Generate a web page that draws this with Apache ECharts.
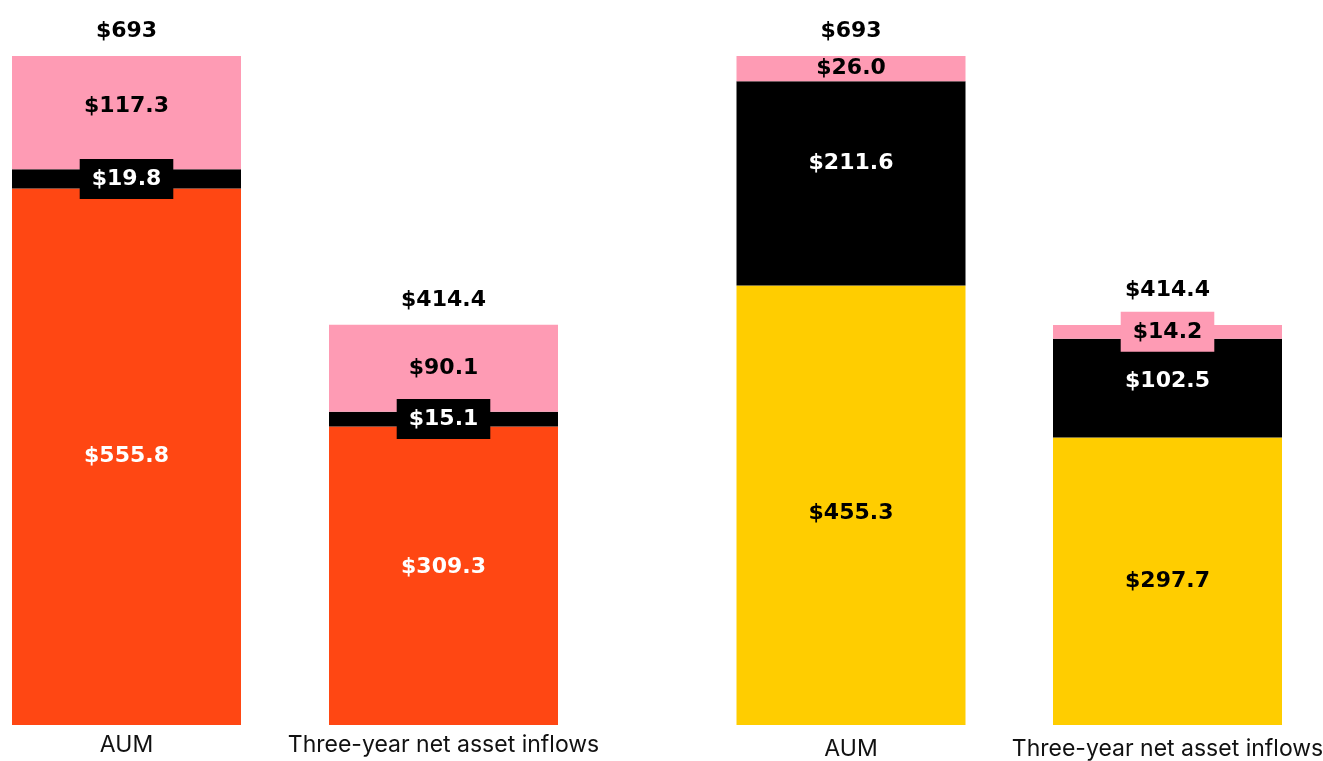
<!DOCTYPE html>
<html>
<head>
<meta charset="utf-8">
<script src="https://cdn.jsdelivr.net/npm/echarts@6/dist/echarts.min.js"></script>
<style>
  html, body { margin: 0; padding: 0; background: #fff; }
  #chart { width: 1323px; height: 761px; }
</style>
</head>
<body>
<div id="chart"></div>
<script>
// data
var categories = ["AUM", "Three-year net asset inflows"];

var leftBase = [555.8, 309.3];
var leftMid = [19.8, 15.1];
var leftTop = [117.3, 90.1];
var leftTotal = [693, 414.4];

var rightBase = [455.3, 297.7];
var rightMid = [211.6, 102.5];
var rightTop = [26.0, 14.2];
var rightTotal = [693, 414.4];

var ORANGE = "#ff4713";
var PINK = "#fe9bb4";
var YELLOW = "#ffcd00";
var BLACK = "#000000";
var BOLD_FONT = "DejaVu Sans";
var FONT = "Inter";

var chart = echarts.init(document.getElementById("chart"));

function money(v) {
  return "$" + Number(v).toFixed(1);
}

function segLabel(color) {
  return {
    show: true,
    position: "inside",
    color: color,
    fontFamily: BOLD_FONT,
    fontWeight: "bold",
    fontSize: 22,
    formatter: function (p) { return money(p.value); }
  };
}

// per item label tweaks: boxed labels for thin segments, small nudges elsewhere
function items(values, extra) {
  return values.map(function (v, i) {
    if (!extra[i]) return v;
    return { value: v, label: extra[i] };
  });
}

function boxLabel(bg) {
  return { backgroundColor: bg, padding: [9, 12] };
}

function totalSeries(totals, axis, distances) {
  return {
    type: "bar",
    stack: "s" + axis,
    xAxisIndex: axis,
    yAxisIndex: axis,
    barWidth: 229,
    data: totals.map(function (t, i) {
      return { value: 0, label: { distance: distances[i] } };
    }),
    itemStyle: { color: "transparent" },
    label: {
      show: true,
      position: "top",
      color: "#000",
      fontFamily: BOLD_FONT,
      fontWeight: "bold",
      fontSize: 22,
      formatter: function (p) { return "$" + totals[p.dataIndex]; }
    },
    silent: true
  };
}

function stackPart(data, axis, color, label) {
  return {
    type: "bar",
    stack: "s" + axis,
    xAxisIndex: axis,
    yAxisIndex: axis,
    barWidth: 229,
    data: data,
    itemStyle: { color: color },
    label: label
  };
}

var option = {
  animation: false,
  // boundaryGap off: each category sits on a grid edge
  grid: [
    { left: 126.5, width: 317, top: 0, bottom: 36, outerBoundsMode: "none" },
    { left: 851, width: 316.5, top: 0, bottom: 36, outerBoundsMode: "none" }
  ],
  xAxis: [0, 1].map(function (i) {
    return {
      type: "category",
      gridIndex: i,
      data: categories,
      boundaryGap: false,
      axisLine: { show: false },
      axisTick: { show: false },
      axisLabel: {
        interval: 0,
        hideOverlap: false,
        color: "#111",
        fontFamily: FONT,
        fontSize: 23,
        margin: i === 0 ? 9 : 13
      }
    };
  }),
  yAxis: [0, 1].map(function (i) {
    return {
      type: "value",
      gridIndex: i,
      min: 0,
      max: 751,
      show: false,
      splitLine: { show: false }
    };
  }),
  series: [
    stackPart(items(leftBase, [null, { offset: [0, -8] }]), 0, ORANGE, segLabel("#fff")),
    stackPart(items(leftMid, [boxLabel(BLACK), boxLabel(BLACK)]), 0, BLACK, segLabel("#fff")),
    stackPart(items(leftTop, [{ offset: [0, -6] }, null]), 0, PINK, segLabel("#000")),
    totalSeries(leftTotal, 0, [14, 14]),

    stackPart(items(rightBase, [{ offset: [0, 8] }, null]), 1, YELLOW, segLabel("#000")),
    stackPart(items(rightMid, [{ offset: [0, -20] }, { offset: [0, -7] }]), 1, BLACK, segLabel("#fff")),
    stackPart(items(rightTop, [null, boxLabel(PINK)]), 1, PINK, segLabel("#000")),
    totalSeries(rightTotal, 1, [14, 24])
  ]
};

chart.setOption(option);
</script>
</body>
</html>
